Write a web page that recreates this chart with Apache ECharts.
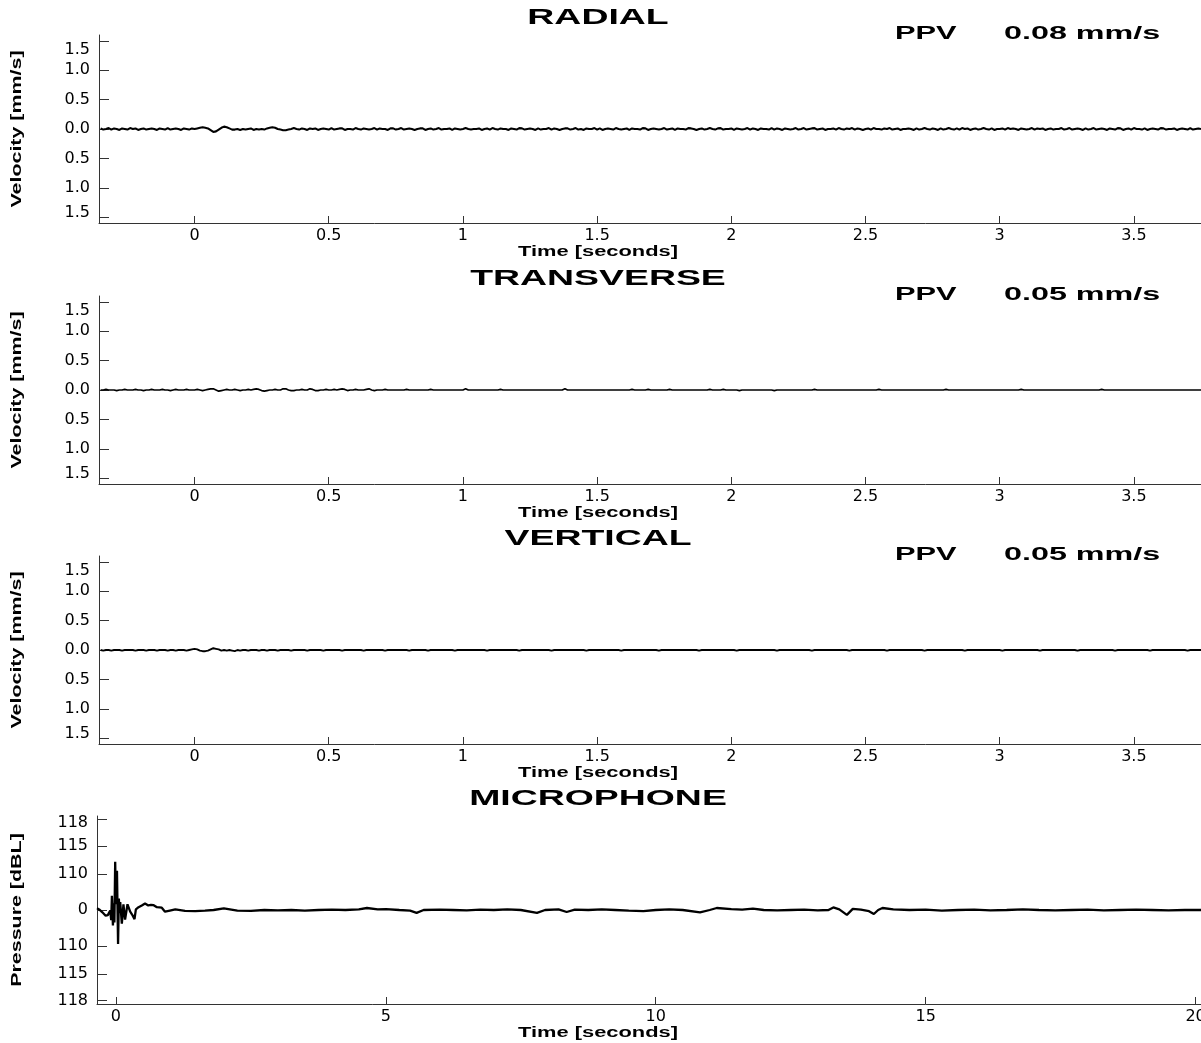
<!DOCTYPE html>
<html><head><meta charset="utf-8">
<script src="https://cdn.jsdelivr.net/npm/echarts@6/dist/echarts.min.js"></script>
<style>html,body{margin:0;padding:0;background:#fff}#c{width:1201px;height:1043px}</style>
</head><body><div id="c"></div>
<script>
// ---------------- DATA ----------------
const panelTitles = ['RADIAL', 'TRANSVERSE', 'VERTICAL', 'MICROPHONE'];
const ppvNames = ['PPV', 'PPV', 'PPV'];
const ppvValues = ['0.08 mm/s', '0.05 mm/s', '0.05 mm/s'];
const velAxisName = 'Velocity [mm/s]';
const micAxisName = 'Pressure [dBL]';
const timeAxisName = 'Time [seconds]';

// velocity traces sampled every 10 ms starting at -0.35 s (mm/s)
const velTimeStart = -0.35;
const velTimeStep = 0.01;
const radial = [
0.01,-0.01,0,0.015,-0.01,0.01,0,-0.015,0.01,0,-0.01,0.015,0,0.01,-0.015,0,0.01,-0.01,0,0.01,
0,-0.015,0.01,0,-0.01,0.015,-0.01,0,0.01,0,-0.015,0.01,0,-0.01,0.01,0,0.01,0.02,0.03,0.02,
0.01,-0.02,-0.05,-0.04,-0.01,0.02,0.04,0.03,0.01,-0.01,-0.01,0,-0.015,0,-0.01,0,0.01,-0.015,0,-0.01,
0,-0.01,0.01,0.02,0.03,0.02,0,-0.01,-0.02,-0.02,-0.01,0,0.015,0,-0.01,0.01,0,-0.015,0.01,0,
0.01,-0.015,0,0.01,0,-0.01,0.015,-0.01,0,0.01,0.01,-0.015,0,0,-0.01,0.015,0,-0.01,0.01,0,
-0.01,0,0.015,-0.01,0.01,0,0,-0.015,0.01,0.01,-0.01,0,0.015,-0.01,0,0.01,0,-0.015,0,0.01,
0.01,-0.015,0,0.01,-0.01,0,0.015,-0.01,0,0,0.01,-0.015,0.01,0,-0.01,0,0.015,0,-0.01,0,
0,0.01,-0.015,0,0.01,-0.01,0.015,0,-0.01,0.01,0,0,-0.015,0.01,0,-0.01,0.015,0.01,-0.01,0,
0.01,0,-0.015,0.01,-0.01,0,0,0.015,-0.01,0.01,0,-0.015,0,0.01,0.01,-0.01,0,0.015,-0.01,0,
-0.015,0.01,0,0,0.015,-0.01,0.01,-0.015,0,0.01,0,-0.01,0.015,0,-0.01,0,0.01,-0.015,0.01,0,
0,-0.01,0.015,0.01,-0.015,0,0.01,0,-0.01,0,0.015,-0.01,0,0.01,-0.015,0.01,0,0,-0.01,0.015,
0.01,0,-0.015,0,0.01,-0.01,0,0.015,0,-0.01,0.01,0.015,-0.01,0,0,0.01,-0.015,0.01,0,-0.01,
0,0.015,-0.01,0.01,0,-0.015,0.01,0,0,-0.01,0.015,-0.01,0.01,0,-0.015,0.01,0,-0.01,0,0.015,
-0.01,0,0.015,-0.01,0,0.01,0.015,-0.01,0,0.01,-0.015,0,0,0.01,-0.01,0.015,0,-0.01,0.01,0,
0.015,-0.01,0.01,0,-0.015,0,0.01,-0.01,0.015,0,0,-0.01,0.01,0,0.015,-0.01,0,0.01,-0.015,0,
0,0.01,0,-0.015,0.01,-0.01,0,0.015,0,-0.01,0.01,0,-0.015,0.01,-0.01,0,0.015,0,-0.01,0.01,
-0.01,0.015,0,0.01,-0.015,0,0.01,-0.01,0,0.015,0,-0.01,0.01,-0.015,0,0,0.01,-0.01,0.015,0,
0.01,0,-0.015,0.01,0,-0.01,0,0.015,-0.01,0.01,0,0.01,-0.015,0,0.01,-0.01,0,0,0.015,-0.01,
0,0.015,-0.01,0,0.01,0,-0.015,0.01,-0.01,0,0.015,-0.01,0,0.01,0,-0.015,0.01,0,-0.01,0.015,
0.01,-0.015,0,0.01,-0.01,0.015,0,0,-0.01,0.01,-0.015,0,0.01,0,-0.01,0.015,0.01,-0.01,0,0,
0.01,-0.015,0,0.01,0,-0.01,0.015,-0.01,0,0.01,0
];
const transverse = [
0,0,0.01,0,0,0,-0.01,0,0,0.01,0,0,0,0.01,0,0,-0.01,0,0,0.01,
0,0,0,0.01,0,0,-0.01,0,0.01,0,0,0,0.01,0,0,0,0.01,0,-0.01,0,
0.01,0.02,0.02,0,-0.02,-0.01,0,0.01,0,0,0.01,0,-0.01,0,0,0.01,0,0.01,0.02,0.01,
-0.01,-0.02,-0.01,0,0,0.01,0,0,0.02,0.02,0,-0.01,-0.01,0,0,0.01,0,0,0.02,0.01,
-0.01,-0.01,0,0,0.01,0,0,0.01,0,0.01,0.02,0.01,-0.01,0,0,0.01,0,0,0,0.01,
0.02,0,-0.01,0,0,0,0.01,0,0,0,0,0,0,0,0.01,0,0,0,0,0,
0,0,0,0.01,0,0,0,0,0,0,0,0,0,0,0,0,0.02,0,0,0,
0,0,0,0,0,0,0,0,0,0.01,0,0,0,0,0,0,0,0,0,0,
0,0,0,0,0,0,0,0,0,0,0,0,0,0.02,0,0,0,0,0,0,
0,0,0,0,0,0,0,0,0,0,0,0,0,0,0,0,0,0,0.01,0,
0,0,0,0,0.01,0,0,0,0,0,0,0,0.01,0,0,0,0,0,0,0,
0,0,0,0,0,0,0,0.01,0,0,0,0,0.01,0,0,0,0,0,-0.01,0,
0,0,0,0,0,0,0,0,0,0,0,-0.01,0,0,0,0,0,0,0,0,
0,0,0,0,0,0,0.01,0,0,0,0,0,0,0,0,0,0,0,0,0,
0,0,0,0,0,0,0,0,0,0,0.01,0,0,0,0,0,0,0,0,0,
0,0,0,0,0,0,0,0,0,0,0,0,0,0,0,0.01,0,0,0,0,
0,0,0,0,0,0,0,0,0,0,0,0,0,0,0,0,0,0,0,0,
0,0,0,0.01,0,0,0,0,0,0,0,0,0,0,0,0,0,0,0,0,
0,0,0,0,0,0,0,0,0,0,0,0,0,0.01,0,0,0,0,0,0,
0,0,0,0,0,0,0,0,0,0,0,0,0,0,0,0,0,0,0,0,
0,0,0,0,0,0,0,0,0,0,0
];
const vertical = [
0,-0.01,0,0,-0.01,0,0,0,-0.01,0,0,0,0,-0.01,0,0,0,-0.01,0,0,
0,-0.01,0,0,0,-0.01,0,0,-0.01,0,0,0,-0.01,0,0.01,0.02,0.01,-0.01,-0.02,-0.02,
-0.01,0.01,0.03,0.02,0.01,-0.01,0,-0.01,0,-0.01,-0.02,0,-0.01,0,0,-0.01,0,0,0,-0.01,
0,0,-0.01,0,0,0,-0.01,0,0,0,0,-0.01,0,0,0,0,0,-0.01,0,0,
0,0,0,-0.01,0,0,0,0,0,0,-0.01,0,0,0,0,0,0,0,-0.01,0,
0,0,0,0,0,0,-0.01,0,0,0,0,0,0,0,0,-0.01,0,0,0,0,
0,0,-0.01,0,0,0,0,0,0,0,0,0,-0.01,0,0,0,0,0,0,0,
0,0,0,0,-0.01,0,0,0,0,0,0,0,0,0,0,0,-0.01,0,0,0,
0,0,0,0,0,0,0,0,-0.01,0,0,0,0,0,0,0,0,0,0,0,
0,-0.01,0,0,0,0,0,0,0,0,0,0,0,0,-0.01,0,0,0,0,0,
0,0,0,0,0,0,0,0,-0.01,0,0,0,0,0,0,0,0,0,0,0,
0,0,0,-0.01,0,0,0,0,0,0,0,0,0,0,0,0,0,-0.01,0,0,
0,0,0,0,0,0,0,0,0,0,0,0,-0.01,0,0,0,0,0,0,0,
0,0,0,0,0,-0.01,0,0,0,0,0,0,0,0,0,0,0,0,0,-0.01,
0,0,0,0,0,0,0,0,0,0,0,0,0,-0.01,0,0,0,0,0,0,
0,0,0,0,0,0,0,-0.01,0,0,0,0,0,0,0,0,0,0,0,0,
0,0,-0.01,0,0,0,0,0,0,0,0,0,0,0,0,0,-0.01,0,0,0,
0,0,0,0,0,0,0,0,0,0,-0.01,0,0,0,0,0,0,0,0,0,
0,0,0,0,-0.01,0,0,0,0,0,0,0,0,0,0,0,0,0,-0.01,0,
0,0,0,0,0,0,0,0,0,0,0,-0.01,0,0,0,0,0,0,0,0,
0,0,0,0,0,-0.01,0,0,0,0,0
];
const velTickValues = [-1.5, -1, -0.5, 0, 0.5, 1, 1.5];
const velTickLabels = ['1.5', '1.0', '0.5', '0.0', '0.5', '1.0', '1.5'];
const velTimeTicks = [0, 0.5, 1, 1.5, 2, 2.5, 3, 3.5];

// microphone trace: time (s) and pressure (Pa)
const micTime = [
-0.35,-0.31,-0.28,-0.25,-0.22,-0.19,-0.17,-0.15,-0.13,-0.105,
-0.087,-0.074,-0.055,-0.04,-0.028,-0.013,0.0,0.02,0.04,0.055,
0.065,0.08,0.11,0.14,0.17,0.215,0.265,0.3,0.345,0.37,
0.42,0.48,0.54,0.6,0.65,0.7,0.76,0.85,0.91,1.0,
1.1,1.28,1.47,1.65,1.81,2.0,2.25,2.5,2.75,3.0,
3.25,3.5,3.75,4.0,4.25,4.5,4.65,4.85,5.0,5.25,
5.45,5.57,5.7,6.0,6.25,6.5,6.75,7.0,7.25,7.5,
7.8,7.95,8.2,8.35,8.5,8.75,9.0,9.25,9.5,9.77,
10.0,10.25,10.5,10.82,11.0,11.13,11.4,11.6,11.8,12.0,
12.25,12.5,12.75,13.0,13.2,13.29,13.4,13.54,13.65,13.8,
13.95,14.04,14.12,14.2,14.4,14.7,15.0,15.3,15.6,15.9,
16.2,16.5,16.8,17.1,17.4,17.7,18.0,18.3,18.6,18.9,
19.2,19.5,19.8,20.1
];
const micPressure = [
0.3,0.1,-0.1,-0.4,-0.7,-1.0,-1.3,-0.9,-1.2,-0.1,
-1.8,2.5,-2.7,1.2,-2.2,8.45,1.0,6.9,-5.95,2.0,
-0.5,1.4,-2.4,1.0,-1.7,1.0,-0.3,-0.8,-1.6,0.1,
0.5,0.8,1.15,0.8,0.9,0.85,0.5,0.4,-0.3,-0.1,
0.1,-0.15,-0.2,-0.1,0,0.3,-0.1,-0.15,0,-0.05,
0,-0.1,0,0.05,0,0.1,0.35,0.1,0.15,0,
-0.1,-0.5,0,0.05,0,-0.05,0.05,0,0.1,0,
-0.5,0,0.1,-0.35,0.05,0,0.1,0,-0.1,-0.2,
0,0.1,0,-0.4,0,0.35,0.15,0.05,0.25,0,
-0.05,0,0.05,-0.05,0,0.45,0.1,-0.85,0.2,0.05,
-0.2,-0.7,0,0.35,0.1,0,0.05,-0.1,0,0.05,
-0.05,0,0.1,0,-0.05,0,0.05,-0.05,0,0.05,
0,-0.05,0,0
];
const micTickValues = [-15.89, -11.25, -6.32, 0, 6.32, 11.25, 15.89];
const micTickLabels = ['118', '115', '110', '0', '110', '115', '118'];
const micTimeTicks = [0, 5, 10, 15, 20];

// ---------------- CHART ----------------
const chart = echarts.init(document.getElementById('c'), null, {renderer: 'canvas'});
const tops = [35, 296, 556, 816];
const gridH = 188;
const AX = '#333';
const tickFont = {fontFamily: 'DejaVu Sans', fontSize: 16, color: '#000'};
const traceWidths = [2.1, 1.7, 1.9, 2.3];

function velPairs(arr) {
  return arr.map((v, i) => [velTimeStart + i * velTimeStep, v]);
}
const velSeries = [radial, transverse, vertical];

function velLabel(v) {
  const i = velTickValues.findIndex(x => Math.abs(x - v) < 1e-6);
  if (i < 0) return '';
  const s = velTickLabels[i];
  if (i === velTickValues.length - 1) return '{top|' + s + '}';
  if (i === 0) return '{bot|' + s + '}';
  return s;
}
function micLabel(v) {
  const i = micTickValues.findIndex(x => Math.abs(x - v) < 1e-6);
  if (i < 0) return '';
  const s = micTickLabels[i];
  if (i === micTickValues.length - 1) return '{top2|' + s + '}';
  return s;
}

const grids = [], xAxes = [], yAxes = [], series = [];
for (let k = 0; k < 4; k++) {
  const isMic = k === 3;
  grids.push({left: isMic ? 97 : 99, right: 0, top: tops[k], height: gridH,
    containLabel: false, outerBoundsMode: 'none'});
  xAxes.push({
    gridIndex: k, type: 'value',
    min: isMic ? -0.35 : -0.356, max: isMic ? 20.1 : 3.75,
    axisLine: {show: true, onZero: false, lineStyle: {color: AX, width: 1}},
    axisTick: {show: true, inside: true, length: 7, customValues: isMic ? micTimeTicks : velTimeTicks, lineStyle: {color: AX}},
    axisLabel: Object.assign({customValues: isMic ? micTimeTicks : velTimeTicks, margin: 5, hideOverlap: false}, tickFont),
    splitLine: {show: false}
  });
  yAxes.push({
    gridIndex: k, type: 'value',
    min: isMic ? -16.5 : -1.6, max: isMic ? 16.5 : 1.6,
    axisLine: {show: true, onZero: false, lineStyle: {color: AX, width: 1}},
    axisTick: {show: true, inside: true, length: 10, customValues: isMic ? micTickValues : velTickValues, lineStyle: {color: AX}},
    axisLabel: Object.assign({
      customValues: isMic ? micTickValues : velTickValues, margin: 9,
      formatter: isMic ? micLabel : velLabel,
      rich: {
        top: Object.assign({padding: [18, 0, 0, 0]}, tickFont),
        bot: Object.assign({padding: [0, 0, 8, 0]}, tickFont),
        top2: Object.assign({padding: [6, 0, 0, 0]}, tickFont)
      }
    }, tickFont),
    splitLine: {show: false}
  });
  series.push({
    type: 'line', xAxisIndex: k, yAxisIndex: k,
    data: isMic ? micTime.map((t, i) => [t, micPressure[i]]) : velPairs(velSeries[k]),
    showSymbol: false, symbol: 'none', silent: true, clip: true,
    lineStyle: {color: '#000', width: traceWidths[k]}
  });
}

const bold = 'Liberation Sans';
const graphics = [];
for (let k = 0; k < 4; k++) {
  const top = tops[k], bottom = tops[k] + gridH;
  graphics.push({type: 'text', x: 598, y: top - 17, scaleX: 1.7, silent: true,
    style: {text: panelTitles[k], x: 0, y: 0, align: 'center', verticalAlign: 'middle',
      font: 'bold 22px "' + bold + '"', fill: '#000'}});
  graphics.push({type: 'text', x: 598, y: bottom + 29, scaleX: 1.56, silent: true,
    style: {text: timeAxisName, x: 0, y: 0, align: 'center', verticalAlign: 'middle',
      font: 'bold 14px "' + bold + '"', fill: '#000'}});
  graphics.push({type: 'text', x: 17, y: top + gridH / 2, scaleX: 1.53, rotation: Math.PI / 2, silent: true,
    style: {text: k === 3 ? micAxisName : velAxisName, x: 0, y: 0, align: 'center', verticalAlign: 'middle',
      font: 'bold 14px "' + bold + '"', fill: '#000'}});
  if (k < 3) {
    graphics.push({type: 'text', x: 895, y: top - 1, scaleX: 1.62, silent: true,
      style: {text: ppvNames[k], x: 0, y: 0, align: 'left', verticalAlign: 'middle',
        font: 'bold 19px "' + bold + '"', fill: '#000'}});
    graphics.push({type: 'text', x: 1004, y: top - 1, scaleX: 1.7, silent: true,
      style: {text: ppvValues[k], x: 0, y: 0, align: 'left', verticalAlign: 'middle',
        font: 'bold 19px "' + bold + '"', fill: '#000'}});
  }
}

chart.setOption({
  animation: false,
  backgroundColor: '#fff',
  grid: grids, xAxis: xAxes, yAxis: yAxes, series: series,
  graphic: graphics
});
</script></body></html>
